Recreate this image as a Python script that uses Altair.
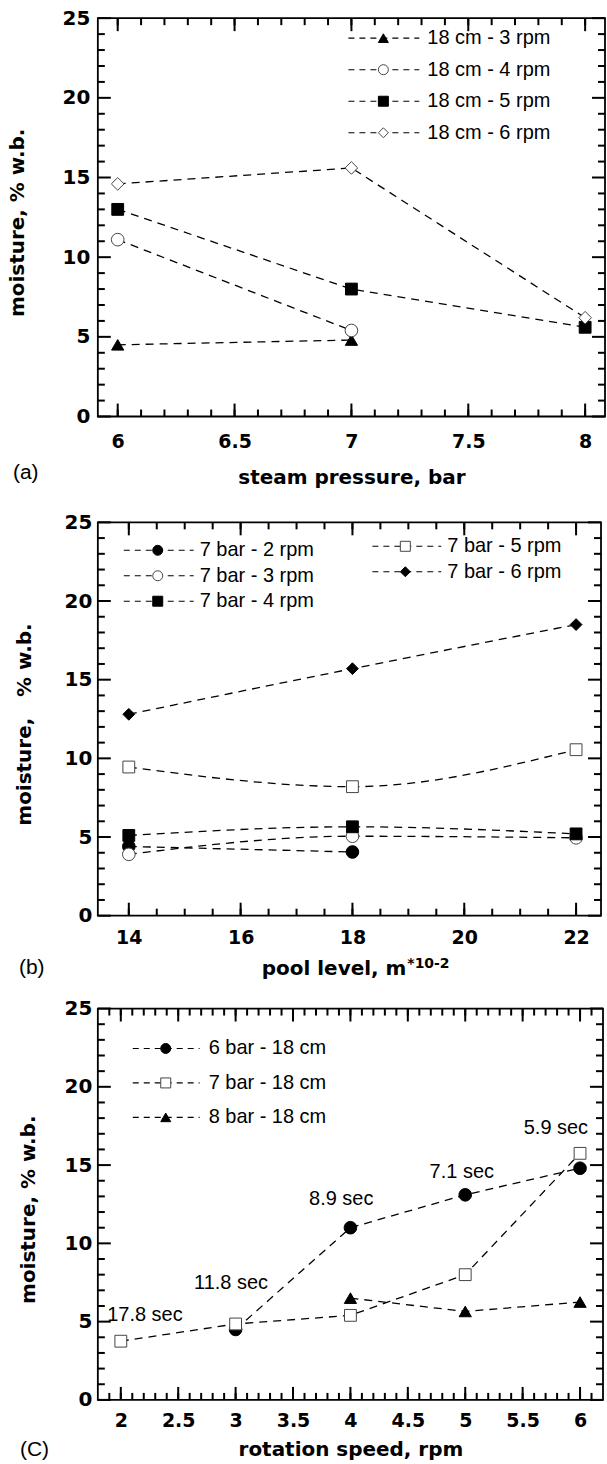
import altair as alt
import pandas as pd

# ---------------- data ----------------
# (a) moisture vs steam pressure
A_NAMES = ["18 cm - 3 rpm", "18 cm - 4 rpm", "18 cm - 5 rpm", "18 cm - 6 rpm"]
A_X_3RPM = [6, 7]
A_Y_3RPM = [4.5, 4.8]
A_X_4RPM = [6, 7]
A_Y_4RPM = [11.1, 5.4]
A_X_5RPM = [6, 7, 8]
A_Y_5RPM = [13.0, 8.0, 5.6]
A_X_6RPM = [6, 7, 8]
A_Y_6RPM = [14.6, 15.6, 6.2]

# (b) moisture vs pool level
B_NAMES = ["7 bar - 2 rpm", "7 bar - 3 rpm", "7 bar - 4 rpm", "7 bar - 5 rpm", "7 bar - 6 rpm"]
B_X_2RPM = [14, 18]
B_Y_2RPM = [4.4, 4.05]
B_X_3RPM = [14, 18, 22]
B_Y_3RPM = [3.9, 5.05, 4.95]
B_X_4RPM = [14, 18, 22]
B_Y_4RPM = [5.1, 5.65, 5.2]
B_X_5RPM = [14, 18, 22]
B_Y_5RPM = [9.45, 8.2, 10.55]
B_X_6RPM = [14, 18, 22]
B_Y_6RPM = [12.8, 15.7, 18.5]

# (c) moisture vs rotation speed
C_NAMES = ["6 bar - 18 cm", "7 bar - 18 cm", "8 bar - 18 cm"]
C_X_6BAR = [3, 4, 5, 6]
C_Y_6BAR = [4.5, 11.0, 13.1, 14.8]
C_X_7BAR = [2, 3, 4, 5, 6]
C_Y_7BAR = [3.75, 4.85, 5.4, 8.0, 15.75]
C_X_8BAR = [4, 5, 6]
C_Y_8BAR = [6.5, 5.65, 6.25]

C_NOTE_TEXT = ["17.8 sec", "11.8 sec", "8.9 sec", "7.1 sec", "5.9 sec"]
C_NOTE_X = [2.21, 2.96, 3.92, 4.97, 5.79]
C_NOTE_Y = [5.4, 7.45, 12.85, 14.55, 17.35]

# tick labels
Y_MAJOR = [0, 5, 10, 15, 20, 25]
Y_MINOR = [v for v in range(1, 25) if v % 5]
A_X_MAJOR = [6, 6.5, 7, 7.5, 8]
A_X_MINOR = [round(6 + 0.1 * i, 1) for i in range(21)]
B_X_MAJOR = [14, 16, 18, 20, 22]
B_X_MINOR = [14 + 0.5 * i for i in range(17)]
C_X_MAJOR = [2, 2.5, 3, 3.5, 4, 4.5, 5, 5.5, 6]
C_X_MINOR = [round(1.9 + 0.1 * i, 1) for i in range(43)]

# ---------------- style ----------------
FONT_BOLD = "DejaVu Sans"
FONT_REG = "Liberation Sans"
MAJOR_LEN = 13
MINOR_LEN = 7
TICK_W = 2.0
LEFT_EXT = 97
TOP_EXT = 16
ONE = pd.DataFrame({"k": [0]})


def series_layers(xs, ys, x, y, shape, filled, size, interp):
    df = pd.DataFrame({"x": x, "y": y, "o": list(range(len(x)))})
    line = alt.Chart(df).mark_line(
        color="black", strokeWidth=1.3, strokeDash=[8, 6], interpolate=interp
    ).encode(x=alt.X("x:Q", scale=xs), y=alt.Y("y:Q", scale=ys), order="o:Q")
    pts = alt.Chart(df).mark_point(
        shape=shape, filled=True, opacity=1, size=size,
        fill="black" if filled else "white",
        stroke="black" if filled else "#444444", strokeWidth=1,
    ).encode(x=alt.X("x:Q", scale=xs), y=alt.Y("y:Q", scale=ys))
    return line, pts


def tick_layers(W, H, xs, ys, x_major, x_minor):
    out = []
    for vals, L in [(x_minor, MINOR_LEN), (x_major, MAJOR_LEN)]:
        d = pd.DataFrame({"v": vals})
        out.append(alt.Chart(d).mark_rule(color="black", strokeWidth=TICK_W).encode(
            x=alt.X("v:Q", scale=xs), y=alt.value(H), y2=alt.value(H - L)))
        out.append(alt.Chart(d).mark_rule(color="black", strokeWidth=TICK_W).encode(
            x=alt.X("v:Q", scale=xs), y=alt.value(0), y2=alt.value(L)))
    for vals, L in [(Y_MINOR, MINOR_LEN), (Y_MAJOR, MAJOR_LEN)]:
        d = pd.DataFrame({"v": vals})
        out.append(alt.Chart(d).mark_rule(color="black", strokeWidth=TICK_W).encode(
            y=alt.Y("v:Q", scale=ys), x=alt.value(0), x2=alt.value(L)))
        out.append(alt.Chart(d).mark_rule(color="black", strokeWidth=TICK_W).encode(
            y=alt.Y("v:Q", scale=ys), x=alt.value(W), x2=alt.value(W - L)))
    return out


def legend_layers(entries):
    out = []
    for name, shape, filled, x0, x1, mx, tx, ly in entries:
        out.append(alt.Chart(ONE).mark_rule(color="black", strokeWidth=1.1, strokeDash=[6, 5]).encode(
            x=alt.value(x0), x2=alt.value(x1), y=alt.value(ly)))
        out.append(alt.Chart(ONE).mark_point(
            shape=shape, filled=True, opacity=1, size=100,
            fill="black" if filled else "white",
            stroke="black" if filled else "#444444", strokeWidth=1,
        ).encode(x=alt.value(mx), y=alt.value(ly)))
        out.append(alt.Chart(ONE).mark_text(
            align="left", baseline="middle", font=FONT_REG, fontSize=20, color="black"
        ).encode(x=alt.value(tx), y=alt.value(ly), text=alt.value(name)))
    return out


def text_at(txt, x, y, size=20, font=FONT_REG, weight="normal", align="left", baseline="middle"):
    return alt.Chart(ONE).mark_text(
        align=align, baseline=baseline, font=font, fontSize=size, fontWeight=weight, color="black"
    ).encode(x=alt.value(x), y=alt.value(y), text=alt.value(txt))


def spacer(H, bottom_ext):
    return alt.Chart(ONE).mark_rule(opacity=0, strokeWidth=0.01).encode(
        x=alt.value(-LEFT_EXT), y=alt.value(-TOP_EXT), y2=alt.value(H + bottom_ext))


def axes_layer(xs, ys, W, H, x_major, x_title, x_title_y, x_lab_pad, y_lab_pad,
               y_title, y_title_x):
    d = pd.DataFrame({"x": [x_major[0]], "y": [0]})
    xaxis_kw = dict(values=x_major, format="~g", labelFont=FONT_BOLD, labelFontSize=19,
                    labelFontWeight="bold", labelColor="black", labelPadding=x_lab_pad,
                    labelFlush=False, labelOverlap=False, ticks=False, domain=False, grid=False)
    if x_title:
        xaxis_kw.update(title=x_title, titleFont=FONT_BOLD, titleFontSize=20,
                        titleFontWeight="bold", titleColor="black", titleX=W / 2,
                        titleY=x_title_y, titleBaseline="alphabetic", titleAlign="center")
    else:
        xaxis_kw.update(title=" ")
    yaxis = alt.Axis(values=Y_MAJOR, labelFont=FONT_BOLD, labelFontSize=20,
                     labelFontWeight="bold", labelColor="black", labelPadding=y_lab_pad,
                     labelFlush=False, labelOverlap=False, ticks=False, domain=False,
                     grid=False, title=y_title, titleFont=FONT_BOLD, titleFontSize=20,
                     titleFontWeight="bold", titleColor="black", titleX=y_title_x,
                     titleY=H / 2 + 5, titleAngle=270, titleBaseline="middle",
                     titleAlign="center")
    return alt.Chart(d).mark_point(opacity=0).encode(
        x=alt.X("x:Q", scale=xs, axis=alt.Axis(**xaxis_kw)),
        y=alt.Y("y:Q", scale=ys, axis=yaxis))


ys_common = dict(domain=[0, 25], nice=False, zero=False)

# ---------------- panel (a) ----------------
WA, HA = 508, 399
xsA = alt.Scale(domain=[5.915, 8.085], nice=False, zero=False)
ysA = alt.Scale(**ys_common)
a_series = [
    (A_X_3RPM, A_Y_3RPM, "triangle-up", True, 150),
    (A_X_4RPM, A_Y_4RPM, "circle", False, 160),
    (A_X_5RPM, A_Y_5RPM, "square", True, 140),
    (A_X_6RPM, A_Y_6RPM, "diamond", False, 160),
]
layersA = [spacer(HA, 88), axes_layer(xsA, ysA, WA, HA, A_X_MAJOR, "steam pressure, bar", 67, 16, 8,
                                      "moisture, % w.b.", -80)]
layersA += tick_layers(WA, HA, xsA, ysA, A_X_MAJOR, A_X_MINOR)
lines, pts = [], []
for x, y, sh, f, sz in a_series:
    l, p = series_layers(xsA, ysA, x, y, sh, f, sz, "linear")
    lines.append(l); pts.append(p)
layersA += lines + pts
legA = [(A_NAMES[i], a_series[i][2], a_series[i][3], 251, 322, 286, 330, 20 + 31.6 * i)
        for i in range(4)]
layersA += legend_layers(legA)
layersA.append(text_at("(a)", -85, HA + 57, size=21))
panelA = alt.layer(*layersA).properties(width=WA, height=HA)

# ---------------- panel (b) ----------------
WB, HB = 504, 394
xsB = alt.Scale(domain=[13.446, 22.446], nice=False, zero=False)
ysB = alt.Scale(**ys_common)
b_series = [
    (B_X_2RPM, B_Y_2RPM, "circle", True, 160),
    (B_X_3RPM, B_Y_3RPM, "circle", False, 160),
    (B_X_4RPM, B_Y_4RPM, "square", True, 140),
    (B_X_5RPM, B_Y_5RPM, "square", False, 140),
    (B_X_6RPM, B_Y_6RPM, "diamond", True, 140),
]
layersB = [spacer(HB, 75), axes_layer(xsB, ysB, WB, HB, B_X_MAJOR, None, 0, 13, 6,
                                      "moisture,\u00a0\u00a0 % w.b.", -73)]
layersB += tick_layers(WB, HB, xsB, ysB, B_X_MAJOR, B_X_MINOR)
lines, pts = [], []
for x, y, sh, f, sz in b_series:
    l, p = series_layers(xsB, ysB, x, y, sh, f, sz, "monotone")
    lines.append(l); pts.append(p)
layersB += lines + pts
legB = [(B_NAMES[i], b_series[i][2], b_series[i][3], 26, 96, 60, 102, 28 + 25.5 * i)
        for i in range(3)]
legB += [(B_NAMES[3 + i], b_series[3 + i][2], b_series[3 + i][3], 275, 344, 308, 350, 24 + 25.5 * i)
         for i in range(2)]
layersB += legend_layers(legB)
layersB.append(text_at("pool level, m", 309, HB + 59, size=20, font=FONT_BOLD, weight="bold",
                       align="right", baseline="alphabetic"))
layersB.append(text_at("*10-2", 310, HB + 52, size=14, font=FONT_BOLD, weight="bold",
                       align="left", baseline="alphabetic"))
layersB.append(text_at("(b)", -79, HB + 52, size=21))
panelB = alt.layer(*layersB).properties(width=WB, height=HB)

# ---------------- panel (c) ----------------
WC, HC = 506, 392
xsC = alt.Scale(domain=[1.8, 6.2], nice=False, zero=False)
ysC = alt.Scale(**ys_common)
c_series = [
    (C_X_6BAR, C_Y_6BAR, "circle", True, 160),
    (C_X_7BAR, C_Y_7BAR, "square", False, 140),
    (C_X_8BAR, C_Y_8BAR, "triangle-up", True, 150),
]
layersC = [spacer(HC, 60), axes_layer(xsC, ysC, WC, HC, C_X_MAJOR, "rotation speed, rpm", 56, 12, 6,
                                      "moisture, % w.b.", -69)]
layersC += tick_layers(WC, HC, xsC, ysC, C_X_MAJOR, C_X_MINOR)
lines, pts = [], []
for x, y, sh, f, sz in c_series:
    l, p = series_layers(xsC, ysC, x, y, sh, f, sz, "linear")
    lines.append(l); pts.append(p)
layersC += lines + pts
legC = [(C_NAMES[i], c_series[i][2], c_series[i][3], 35, 102, 68, 111, 40 + 34.5 * i)
        for i in range(3)]
layersC += legend_layers(legC)
notes = pd.DataFrame({"x": C_NOTE_X, "y": C_NOTE_Y, "t": C_NOTE_TEXT})
layersC.append(alt.Chart(notes).mark_text(
    align="center", baseline="middle", font=FONT_REG, fontSize=20, color="black"
).encode(x=alt.X("x:Q", scale=xsC), y=alt.Y("y:Q", scale=ysC), text="t:N"))
layersC.append(text_at("(C)", -78, HC + 50, size=21))
panelC = alt.layer(*layersC).properties(width=WC, height=HC)

chart = alt.vconcat(panelA, panelB, panelC, spacing=0).properties(
    padding={"left": 0, "top": 0, "right": 0, "bottom": 0},
    background="white",
).configure_view(stroke="black", strokeWidth=1.8)

chart.save("out.html", embed_options={"renderer": "svg", "actions": False})
